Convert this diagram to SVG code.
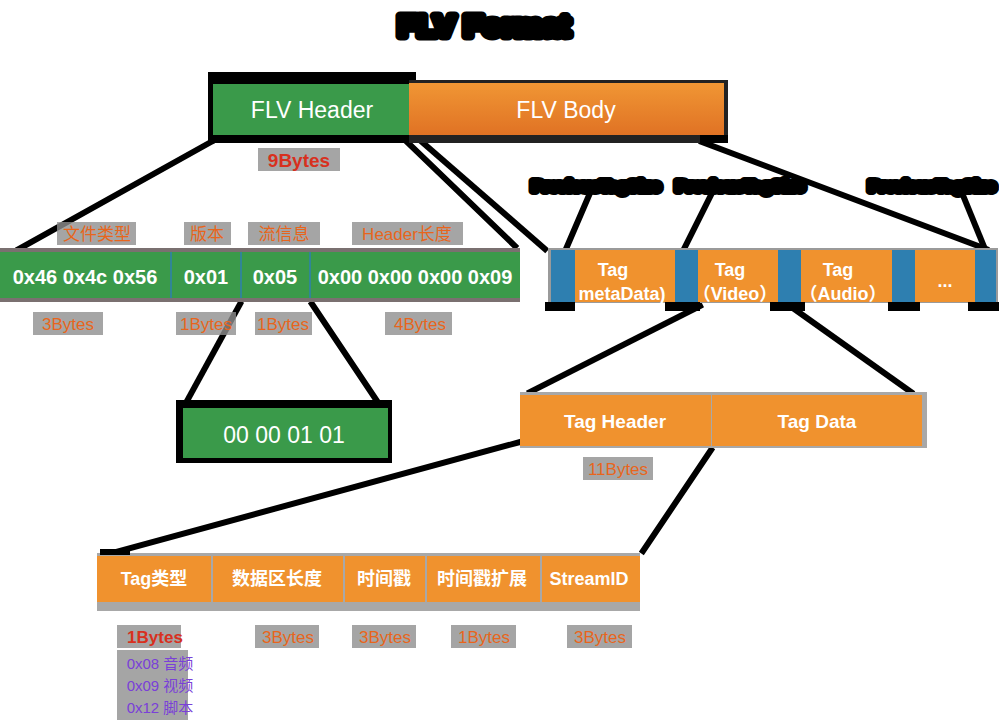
<svg xmlns="http://www.w3.org/2000/svg" width="999" height="721" viewBox="0 0 999 721">
<defs>
<style>
.t{font-family:"Liberation Sans","Noto Sans CJK SC",sans-serif}
.w{fill:#fff}
.wb{fill:#fff;font-weight:bold}
.lab{fill:#e8651c;font-size:17px}
.gb{fill:#8e8e8e;opacity:.8}
.blob{fill:#000;stroke:#000;stroke-width:8;font-weight:bold;stroke-linejoin:round}
.conn line{stroke:#000;stroke-width:6;stroke-linecap:square}
.grn{fill:#3a9a4a}
.org{fill:#f0922e}
.blu{fill:#2e7fb0}
.sep{stroke:#2e7fb0;stroke-width:1.5}
</style>
<linearGradient id="bodyg" x1="0" y1="0" x2="0" y2="1">
<stop offset="0" stop-color="#f09634"/>
<stop offset="1" stop-color="#e07224"/>
</linearGradient>
</defs>
<rect width="999" height="721" fill="#fff"/>

<g id="title">
<text class="t blob" x="484" y="36" font-size="30" text-anchor="middle" textLength="172" lengthAdjust="spacingAndGlyphs" style="stroke-width:9">FLV Format</text>
</g>

<g id="connectors" class="conn">
<line x1="211" y1="142" x2="19" y2="249"/>
<line x1="407" y1="142" x2="515" y2="246"/>
<line x1="422" y1="142" x2="545" y2="249"/>
<line x1="702" y1="142" x2="986" y2="249"/>
<line x1="590" y1="193" x2="566" y2="249"/>
<line x1="712" y1="193" x2="684" y2="249"/>
<line x1="962" y1="193" x2="985" y2="249"/>
<line x1="240" y1="304" x2="187" y2="401"/>
<line x1="312" y1="304" x2="377" y2="401"/>
<line x1="700" y1="306" x2="530" y2="392"/>
<line x1="790" y1="306" x2="911" y2="392"/>
<line x1="520" y1="442" x2="112" y2="553"/>
<line x1="711" y1="450" x2="643" y2="551"/>
</g>

<g id="flv">
<rect x="208" y="72" width="208" height="71" fill="#000"/>
<rect x="409" y="80" width="319" height="63" fill="#222"/>
<rect x="700" y="135" width="28" height="8" fill="#000"/>
<rect x="213" y="84" width="196" height="51" class="grn"/>
<rect x="409" y="83" width="315" height="52" fill="url(#bodyg)"/>
<text class="t w" x="312" y="118" font-size="23" text-anchor="middle">FLV Header</text>
<text class="t w" x="566" y="118" font-size="23" text-anchor="middle">FLV Body</text>
</g>

<g id="label-9bytes">
<rect class="gb" x="258" y="148" width="82" height="23"/>
<text class="t" x="299" y="167" font-size="19" font-weight="bold" fill="#d8301e" text-anchor="middle">9Bytes</text>
</g>

<g id="header-fields">
<rect x="0" y="248" width="520" height="54" fill="#7a7070"/>
<rect x="0" y="252" width="520" height="46" class="grn"/>
<line class="sep" x1="171" y1="252" x2="171" y2="298"/>
<line class="sep" x1="241" y1="252" x2="241" y2="298"/>
<line class="sep" x1="310" y1="252" x2="310" y2="298"/>
<text class="t wb" x="85" y="284" font-size="20" text-anchor="middle">0x46 0x4c 0x56</text>
<text class="t wb" x="206" y="284" font-size="20" text-anchor="middle">0x01</text>
<text class="t wb" x="275" y="284" font-size="20" text-anchor="middle">0x05</text>
<text class="t wb" x="415" y="284" font-size="20" text-anchor="middle">0x00 0x00 0x00 0x09</text>
</g>

<g id="header-labels">
<rect class="gb" x="57" y="222" width="79" height="23"/>
<text class="t lab" x="97" y="240" text-anchor="middle">文件类型</text>
<rect class="gb" x="184" y="222" width="47" height="23"/>
<text class="t lab" x="207" y="240" text-anchor="middle">版本</text>
<rect class="gb" x="248" y="222" width="72" height="23"/>
<text class="t lab" x="284" y="240" text-anchor="middle">流信息</text>
<rect class="gb" x="352" y="222" width="111" height="23"/>
<text class="t lab" x="407" y="240" text-anchor="middle">Header长度</text>
<rect class="gb" x="33" y="312" width="70" height="23"/>
<text class="t lab" x="68" y="330" text-anchor="middle">3Bytes</text>
<rect class="gb" x="176" y="312" width="60" height="23"/>
<text class="t lab" x="206" y="330" text-anchor="middle">1Bytes</text>
<rect class="gb" x="255" y="312" width="57" height="23"/>
<text class="t lab" x="283" y="330" text-anchor="middle">1Bytes</text>
<rect class="gb" x="385" y="312" width="67" height="23"/>
<text class="t lab" x="420" y="330" text-anchor="middle">4Bytes</text>
</g>

<g id="flags-box">
<rect x="176" y="400" width="216" height="63" fill="#000"/>
<rect x="183" y="408" width="205" height="50" class="grn"/>
<text class="t w" x="284" y="443" font-size="23" text-anchor="middle">00 00 01 01</text>
</g>

<g id="prev-tag-size-labels">
<text class="t blob" x="596" y="191" font-size="14" text-anchor="middle" textLength="128" lengthAdjust="spacingAndGlyphs">PreviousTagSize</text>
<text class="t blob" x="740" y="191" font-size="14" text-anchor="middle" textLength="128" lengthAdjust="spacingAndGlyphs">PreviousTagSize</text>
<text class="t blob" x="932" y="191" font-size="14" text-anchor="middle" textLength="126" lengthAdjust="spacingAndGlyphs">PreviousTagSize</text>
</g>

<g id="tag-bar">
<rect x="548" y="248" width="450" height="55" fill="#9a9a9a"/>
<rect x="551" y="250" width="24" height="52" class="blu"/>
<rect x="575" y="250" width="100" height="52" class="org"/>
<rect x="675" y="250" width="23" height="52" class="blu"/>
<rect x="698" y="250" width="80" height="52" class="org"/>
<rect x="778" y="250" width="23" height="52" class="blu"/>
<rect x="801" y="250" width="91" height="52" class="org"/>
<rect x="892" y="250" width="23" height="52" class="blu"/>
<rect x="915" y="250" width="60" height="52" class="org"/>
<rect x="975" y="250" width="21" height="52" class="blu"/>
<rect x="545" y="302" width="30" height="9" fill="#000"/>
<rect x="665" y="302" width="35" height="9" fill="#000"/>
<rect x="770" y="302" width="35" height="9" fill="#000"/>
<rect x="888" y="302" width="32" height="9" fill="#000"/>
<rect x="968" y="302" width="31" height="9" fill="#000"/>
<text class="t wb" x="613" y="276" font-size="18" text-anchor="middle">Tag</text>
<text class="t wb" x="622" y="300" font-size="18" text-anchor="middle">metaData)</text>
<text class="t wb" x="730" y="276" font-size="18" text-anchor="middle">Tag</text>
<text class="t wb" x="735" y="300" font-size="18" text-anchor="middle">（Video）</text>
<text class="t wb" x="838" y="276" font-size="18" text-anchor="middle">Tag</text>
<text class="t wb" x="843" y="300" font-size="18" text-anchor="middle">（Audio）</text>
<text class="t wb" x="945" y="287" font-size="18" text-anchor="middle">...</text>
</g>

<g id="tag-parts">
<rect x="520" y="392" width="407" height="56" fill="#a8a8a8"/>
<rect x="520" y="395" width="191" height="51" class="org"/>
<rect x="712" y="395" width="210" height="51" class="org"/>
<text class="t wb" x="615" y="428" font-size="19" text-anchor="middle">Tag Header</text>
<text class="t wb" x="817" y="428" font-size="19" text-anchor="middle">Tag Data</text>
<rect class="gb" x="583" y="457" width="70" height="23"/>
<text class="t lab" x="618" y="475" text-anchor="middle">11Bytes</text>
</g>

<g id="tag-header-fields">
<rect x="97" y="553" width="543" height="58" fill="#a8a8a8"/>
<rect x="97" y="556" width="114" height="46" class="org"/>
<rect x="213" y="556" width="130" height="46" class="org"/>
<rect x="345" y="556" width="80" height="46" class="org"/>
<rect x="427" y="556" width="113" height="46" class="org"/>
<rect x="542" y="556" width="98" height="46" class="org"/>
<rect x="100" y="549" width="30" height="6" fill="#000"/>
<text class="t wb" x="154" y="585" font-size="18" text-anchor="middle">Tag类型</text>
<text class="t wb" x="277" y="585" font-size="18" text-anchor="middle">数据区长度</text>
<text class="t wb" x="384" y="585" font-size="18" text-anchor="middle">时间戳</text>
<text class="t wb" x="482" y="585" font-size="18" text-anchor="middle">时间戳扩展</text>
<text class="t wb" x="589" y="585" font-size="18" text-anchor="middle">StreamID</text>
</g>

<g id="tag-header-labels">
<rect class="gb" x="117" y="625" width="64" height="23"/>
<text class="t" x="155" y="643" font-size="17" font-weight="bold" fill="#d8301e" text-anchor="middle">1Bytes</text>
<rect class="gb" x="117" y="650" width="71" height="70"/>
<text class="t" x="160" y="669" font-size="15" fill="#7a40d8" text-anchor="middle">0x08 音频</text>
<text class="t" x="160" y="691" font-size="15" fill="#7a40d8" text-anchor="middle">0x09 视频</text>
<text class="t" x="160" y="713" font-size="15" fill="#7a40d8" text-anchor="middle">0x12 脚本</text>
<rect class="gb" x="255" y="625" width="64" height="23"/>
<text class="t lab" x="288" y="643" text-anchor="middle">3Bytes</text>
<rect class="gb" x="352" y="625" width="64" height="23"/>
<text class="t lab" x="385" y="643" text-anchor="middle">3Bytes</text>
<rect class="gb" x="451" y="625" width="65" height="23"/>
<text class="t lab" x="484" y="643" text-anchor="middle">1Bytes</text>
<rect class="gb" x="567" y="625" width="65" height="23"/>
<text class="t lab" x="600" y="643" text-anchor="middle">3Bytes</text>
</g>
</svg>
